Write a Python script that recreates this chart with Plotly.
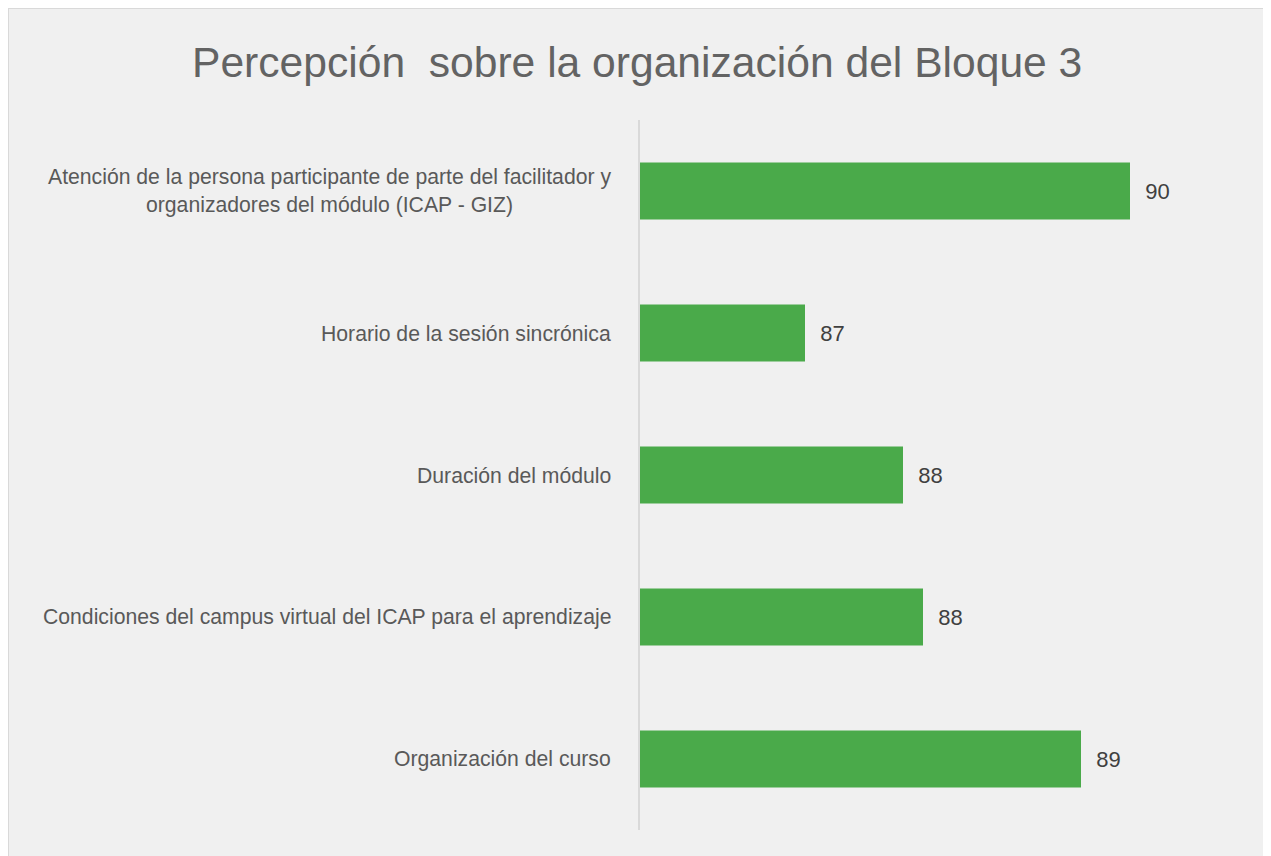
import plotly.graph_objects as go

title = "Percepción\u00a0 sobre la organización del Bloque 3"
categories = [
    "Atención de la persona participante de parte del facilitador y<br>organizadores del módulo (ICAP - GIZ)",
    "Horario de la sesión sincrónica",
    "Duración del módulo",
    "Condiciones del campus virtual del ICAP para el aprendizaje",
    "Organización del curso",
]
values = [89.9, 86.65, 87.63, 87.83, 89.41]

font_family = "Liberation Sans, Arial, sans-serif"

L, R, T, B = 632, 29, 112, 34
W, H = 1271, 856
pw, ph = W - L - R, H - T - B

fig = go.Figure()
fig.add_trace(go.Bar(
    y=categories, x=values, orientation="h",
    marker=dict(color="#4aaa4a", line=dict(width=0)),
    width=0.4,
    texttemplate="\u00a0\u00a0%{x:.0f}",
    textposition="outside",
    textfont=dict(size=22, color="#404040", family=font_family),
    cliponaxis=False,
    hoverinfo="skip",
))

annotations = []
for c in categories:
    annotations.append(dict(
        xref="paper", x=0, yref="y", y=c, xanchor="right", yanchor="middle",
        xshift=-27, text=c, showarrow=False, align="center",
        font=dict(size=21.2, color="#595959", family=font_family),
    ))

fig.update_layout(
    width=W, height=H,
    paper_bgcolor="white", plot_bgcolor="rgba(0,0,0,0)",
    margin=dict(l=L, r=R, t=T, b=B),
    title=dict(text=title, x=0.495, xref="container", xanchor="center",
               y=1 - 54 / H, yref="container", yanchor="middle",
               font=dict(size=42.6, color="#636363", family=font_family)),
    showlegend=False,
    annotations=annotations,
    shapes=[dict(type="rect", xref="paper", yref="paper", layer="below",
                 x0=-L / pw, x1=1 + (R + 40) / pw, y0=-(B + 10) / ph, y1=1 + T / ph,
                 fillcolor="#f0f0f0", line=dict(color="#d9d9d9", width=2))],
    xaxis=dict(range=[85, 91.1], visible=False, fixedrange=True),
    yaxis=dict(autorange="reversed", showticklabels=False, showline=True,
               linecolor="#d9d9d9", linewidth=2, showgrid=False, ticks="",
               zeroline=False),
    bargap=0.6,
)

fig.write_html("out.html")
